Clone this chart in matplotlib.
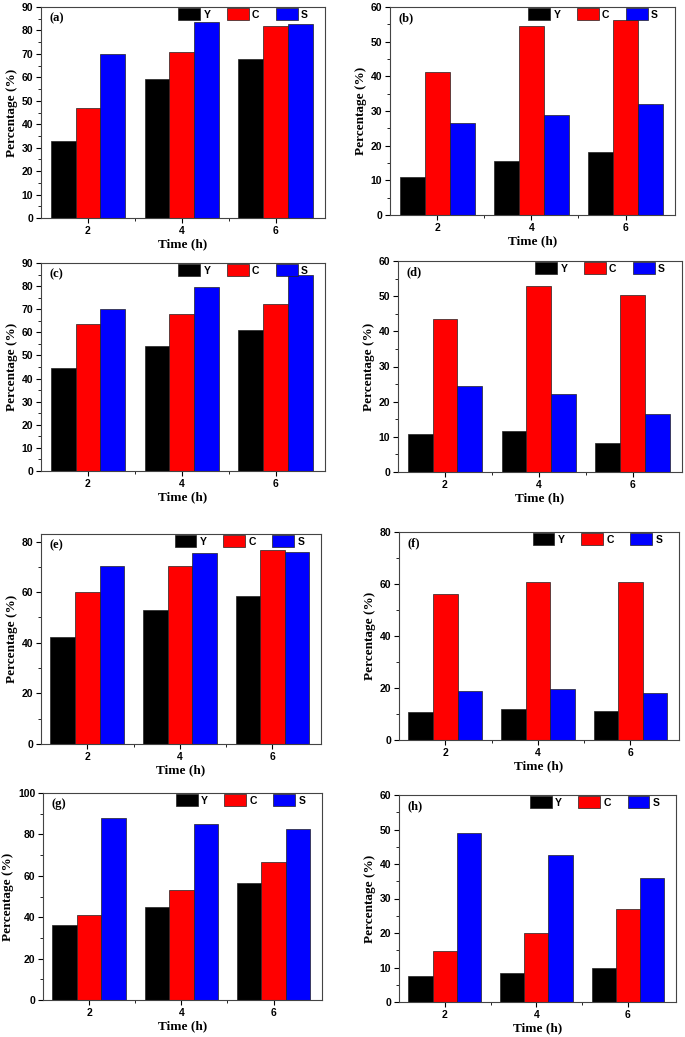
import numpy as np
import matplotlib
matplotlib.use("Agg")
import matplotlib.pyplot as plt
from matplotlib.ticker import MultipleLocator, FixedLocator

# reaction time (h)
times = [2, 4, 6]
series_names = ["Y", "C", "S"]
series_colors = ["#000000", "#ff0000", "#0000ff"]

# panel values: Y, C, S at 2, 4, 6 h
y_a = [32.8, 59.3, 67.8]
c_a = [46.9, 70.8, 81.8]
s_a = [70.0, 83.5, 82.8]

y_b = [11.1, 15.7, 18.1]
c_b = [41.3, 54.6, 56.3]
s_b = [26.6, 28.8, 32.1]

y_c = [44.6, 54.0, 61.1]
c_c = [63.4, 67.9, 72.4]
s_c = [70.0, 79.6, 84.7]

y_d = [10.8, 11.7, 8.2]
c_d = [43.6, 53.0, 50.3]
s_d = [24.4, 22.1, 16.4]

y_e = [42.2, 53.1, 58.5]
c_e = [60.1, 70.2, 76.7]
s_e = [70.2, 75.5, 76.0]

y_f = [10.6, 11.9, 11.0]
c_f = [56.1, 60.8, 60.8]
s_f = [18.8, 19.6, 18.2]

y_g = [36.1, 45.1, 56.3]
c_g = [41.1, 53.0, 66.8]
s_g = [88.0, 85.1, 82.8]

y_h = [7.4, 8.5, 9.9]
c_h = [14.8, 19.9, 27.0]
s_h = [49.0, 42.5, 36.0]

panel_labels = ["(a)", "(b)", "(c)", "(d)", "(e)", "(f)", "(g)", "(h)"]
panel_data = [(y_a, c_a, s_a), (y_b, c_b, s_b), (y_c, c_c, s_c), (y_d, c_d, s_d),
              (y_e, c_e, s_e), (y_f, c_f, s_f), (y_g, c_g, s_g), (y_h, c_h, s_h)]
y_max = [90, 60, 90, 60, 83, 80, 100, 60]
y_major = [10, 10, 10, 10, 20, 20, 20, 10]

# axes boxes in pixels: left, top, right, bottom
boxes = [(41, 7, 325, 218), (390, 7, 675, 215),
         (41, 263, 325, 471), (398, 261, 682, 472),
         (41, 534, 321, 744), (399, 532, 679, 740),
         (43, 793, 322, 1000), (399, 795, 676, 1002)]

W, H = 685, 1037
fig = plt.figure(figsize=(W / 100, H / 100), dpi=100)

serif = "Liberation Serif"
sans = "Liberation Sans"
bw = 0.53

for i in range(8):
    l, t, r, b = boxes[i]
    ax = fig.add_axes([l / W, 1 - b / H, (r - l) / W, (b - t) / H])
    x = np.array(times, dtype=float)
    for k in range(3):
        ax.bar(x + (k - 1) * bw, panel_data[i][k], width=bw, color=series_colors[k],
               edgecolor="#222222", linewidth=0.5, label=series_names[k])
    ax.set_xlim(1, 7.05)
    ax.set_ylim(0, y_max[i])
    ax.set_xticks(times)
    ax.xaxis.set_minor_locator(FixedLocator([3, 5]))
    ax.yaxis.set_major_locator(MultipleLocator(y_major[i]))
    ax.yaxis.set_minor_locator(MultipleLocator(y_major[i] / 2))
    ax.tick_params(direction="out", length=3.5, width=0.8, labelsize=7.5, pad=2)
    ax.tick_params(which="minor", direction="out", length=2, width=0.6)
    for lab in ax.get_xticklabels() + ax.get_yticklabels():
        lab.set_fontfamily(sans)
        lab.set_fontweight("bold")
    for sp in ax.spines.values():
        sp.set_linewidth(0.8)
        sp.set_color("#444444")
    ax.set_xlabel("Time (h)", fontfamily=serif, fontweight="bold", fontsize=9.5, labelpad=2)
    ax.set_ylabel("Percentage (%)", fontfamily=serif, fontweight="bold", fontsize=9.5, labelpad=3)
    ax.text(0.03, 0.975, panel_labels[i], transform=ax.transAxes, va="top", ha="left",
            fontfamily=serif, fontweight="bold", fontsize=9)
    ax.legend(loc="upper right", ncol=3, frameon=False, bbox_to_anchor=(0.94, 0.995),
              prop={"family": sans, "size": 7.5, "weight": "bold"},
              handlelength=2.1, handleheight=1.4, handletextpad=0.3,
              columnspacing=1.6, borderpad=0.0, borderaxespad=0.0)

fig.savefig("out.png", dpi=100)
